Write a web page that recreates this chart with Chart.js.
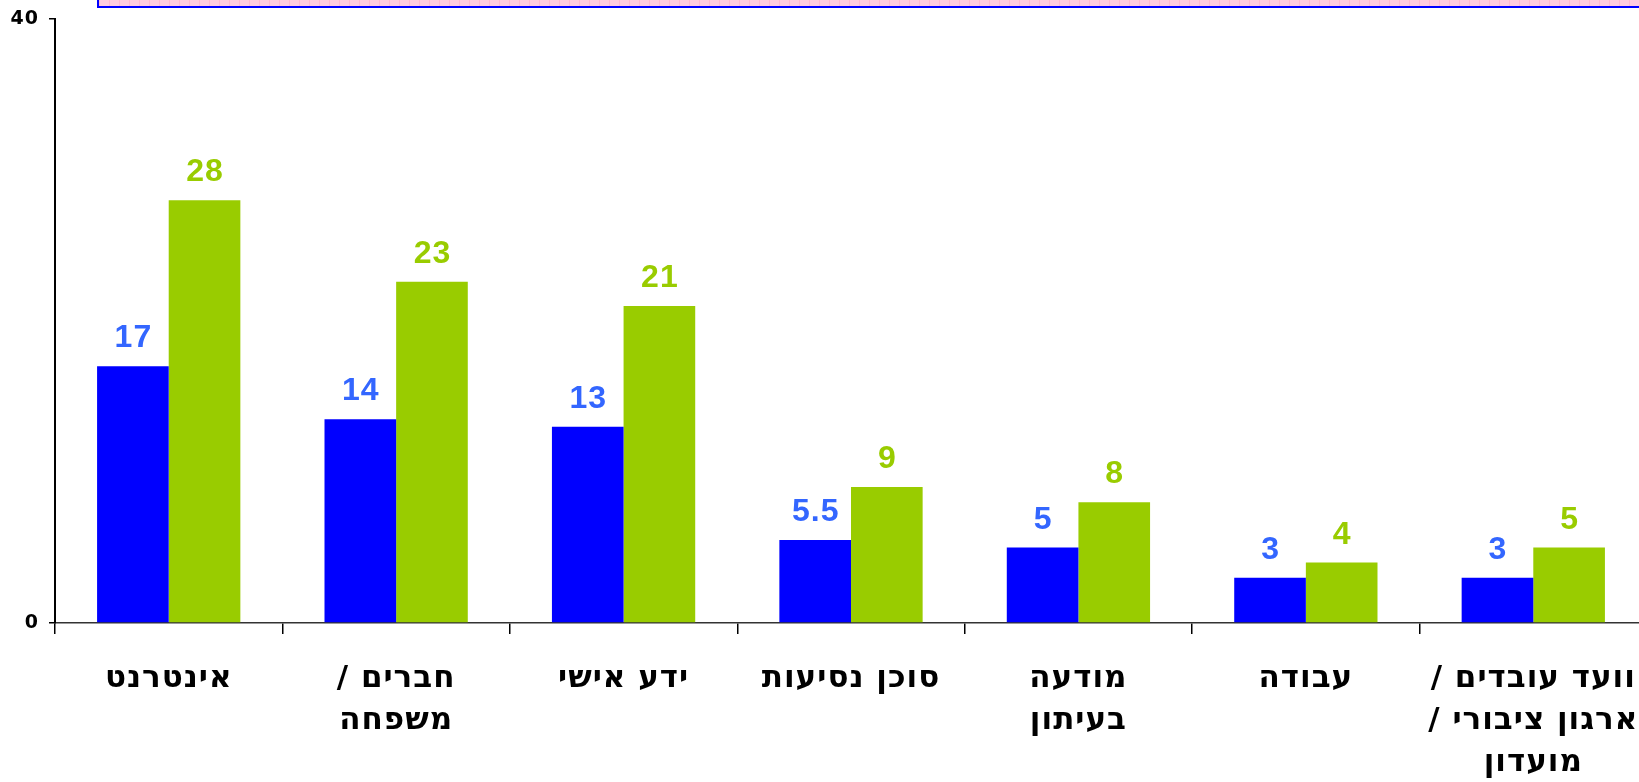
<!DOCTYPE html>
<html>
<head>
<meta charset="utf-8">
<script src="https://cdn.jsdelivr.net/npm/chart.js@4"></script>
<style>
  html, body { margin: 0; padding: 0; background: #ffffff; overflow: hidden; width: 1639px; height: 782px; }
  #wrap { position: absolute; left: 0; top: 0; width: 1647px; height: 782px; }
  #c { direction: rtl; }
  #legendBox {
    position: absolute; left: 97px; top: -10px; width: 1600px; height: 14px;
    border: 2px solid #0000ff;
    background-color: #ffcce0;
    background-image: repeating-linear-gradient(90deg, #ffb8d4 0px, #ffb8d4 1px, transparent 1px, transparent 10px);
  }
</style>
</head>
<body>
<div id="wrap"><canvas id="c"></canvas></div>
<div id="legendBox"></div>
<script>
const categories = [
  "אינטרנט",
  ["חברים /", "משפחה"],
  "ידע אישי",
  "סוכן נסיעות",
  ["מודעה", "בעיתון"],
  "עבודה",
  ["וועד עובדים /", "ארגון ציבורי /", "מועדון"]
];
const seriesNames = ["סדרה 1", "סדרה 2"];
const blueValues = [17, 13.5, 13, 5.5, 5, 3, 3];
const greenValues = [28, 22.6, 21, 9, 8, 4, 5];
const blueLabels = ["17", "14", "13", "5.5", "5", "3", "3"];
const greenLabels = ["28", "23", "21", "9", "8", "4", "5"];
const yTickValues = [0, 40];

const spacingPlugin = {
  id: 'spacing',
  beforeDraw(chart) {
    chart.ctx.letterSpacing = '1px';
  }
};

const valueLabelPlugin = {
  id: 'valueLabels',
  afterDatasetsDraw(chart) {
    const ctx = chart.ctx;
    ctx.save();
    ctx.direction = 'ltr';
    ctx.letterSpacing = '1px';
    ctx.font = 'bold 32px "Liberation Sans", Arial, sans-serif';
    ctx.textAlign = 'center';
    ctx.textBaseline = 'alphabetic';
    chart.data.datasets.forEach((ds, di) => {
      const meta = chart.getDatasetMeta(di);
      meta.data.forEach((bar, i) => {
        ctx.fillStyle = ds.labelColor;
        ctx.fillText(ds.valueLabels[i], bar.x + 0.5, bar.y - 19);
      });
    });
    ctx.restore();
  }
};

new Chart(document.getElementById('c'), {
  type: 'bar',
  data: {
    labels: categories,
    datasets: [
      { label: seriesNames[0], data: blueValues, backgroundColor: '#0000ff', valueLabels: blueLabels, labelColor: '#3366ff' },
      { label: seriesNames[1], data: greenValues, backgroundColor: '#99cc00', valueLabels: greenLabels, labelColor: '#99cc00' }
    ]
  },
  options: {
    responsive: true,
    maintainAspectRatio: false,
    animation: false,
    layout: { padding: { top: 19, left: 0, right: 0, bottom: 0 } },
    datasets: { bar: { barPercentage: 1.0, categoryPercentage: 0.63 } },
    plugins: { legend: { display: false }, tooltip: { enabled: false } },
    scales: {
      x: {
        offset: true,
        grid: { offset: true, drawOnChartArea: false, drawTicks: true, tickLength: 11, color: '#000000', lineWidth: 1.5 },
        border: { display: true, color: '#333333', width: 1.5 },
        ticks: {
          maxRotation: 0, minRotation: 0, autoSkip: false,
          color: '#000000', padding: 24,
          font: { family: '"DejaVu Sans", Verdana, sans-serif', size: 31, weight: 'bold', lineHeight: 42 / 31 }
        },
        afterFit(scale) { scale.height = 159; scale.paddingLeft = 0; scale.paddingRight = 0; }
      },
      y: {
        min: 0, max: 40,
        afterBuildTicks(scale) { scale.ticks = yTickValues.map(v => ({ value: v })); },
        grid: { drawOnChartArea: false, drawTicks: true, tickLength: 6, color: '#000000', lineWidth: 1.5 },
        border: { display: true, color: '#000000', width: 2 },
        ticks: {
          color: '#000000', padding: 10,
          font: { family: '"DejaVu Sans", Verdana, sans-serif', size: 19, weight: 'bold' }
        },
        afterFit(scale) { scale.width = 55; scale.paddingTop = 0; scale.paddingBottom = 0; }
      }
    }
  },
  plugins: [spacingPlugin, valueLabelPlugin]
});
</script>
</body>
</html>
